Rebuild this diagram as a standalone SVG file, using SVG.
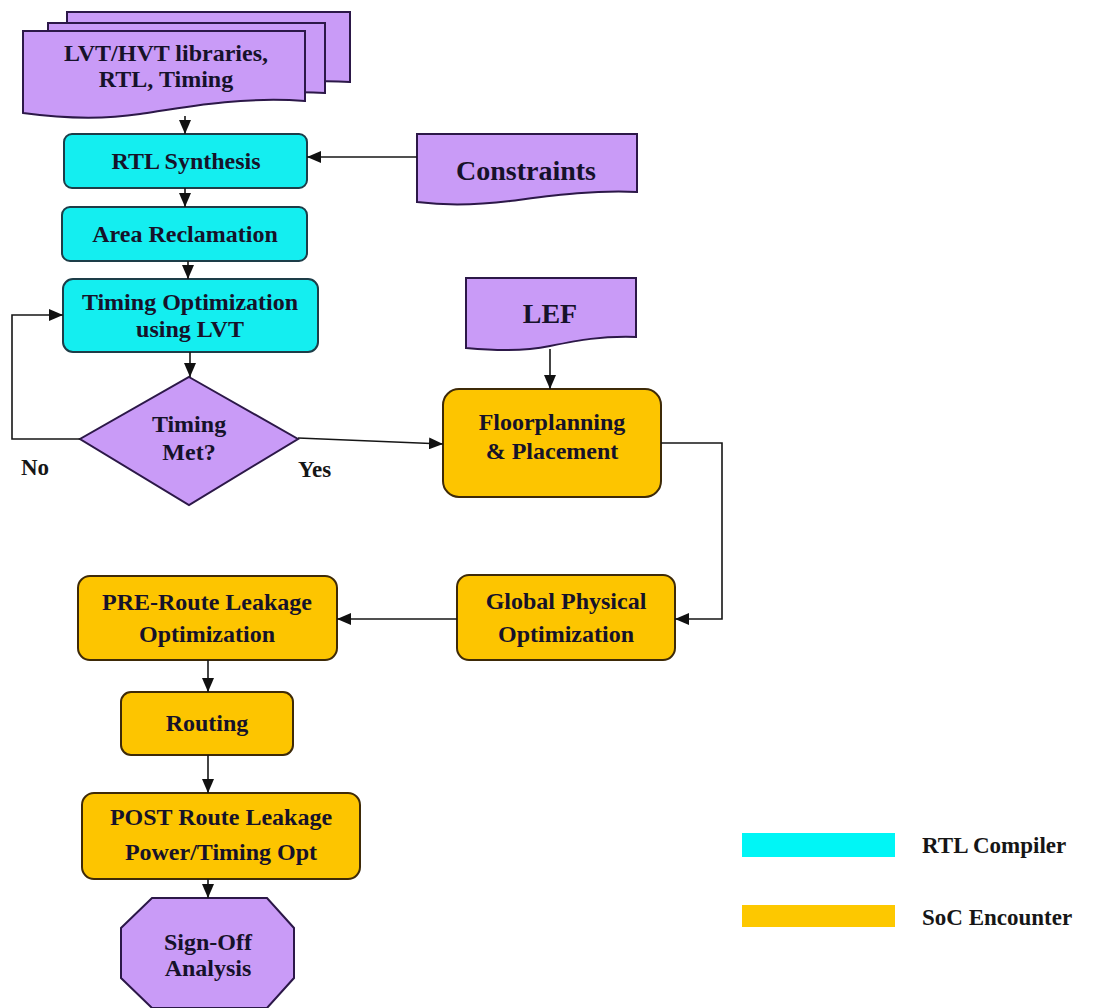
<svg xmlns="http://www.w3.org/2000/svg" width="1101" height="1008" viewBox="0 0 1101 1008">
  <style>
    .lbl { font-family: "Liberation Serif", "Times New Roman", serif; font-weight: bold; fill: #16122a; text-anchor: middle; }
    .t24 { font-size: 24px; }
    .t28 { font-size: 28px; }
    .side { font-family: "Liberation Serif", "Times New Roman", serif; font-weight: bold; font-size: 23px; fill: #161616; }
    .cyan { fill: #14EEF0; stroke: #1d3d48; stroke-width: 2; }
    .gold { fill: #FDC500; stroke: #3e2a08; stroke-width: 2; }
    .purple { fill: #C99BF7; stroke: #2c1848; stroke-width: 2; }
    .conn { fill: none; stroke: #161616; stroke-width: 1.6; }
  </style>
  <defs>
    <marker id="arrow" markerUnits="userSpaceOnUse" markerWidth="14" markerHeight="12" viewBox="0 0 14 12" refX="14" refY="6" orient="auto">
      <path d="M0,0 L14,6 L0,12 Z" fill="#111111"/>
    </marker>
  </defs>

  <rect width="1101" height="1008" fill="#ffffff"/>

  <!-- stacked input documents -->
  <g id="inputs">
    <path class="purple" d="M67,12 H350 V82 C300,79 260,86 220,92 C170,99 110,96 67,92 Z"/>
    <path class="purple" d="M48,23 H325 V93 C275,90 235,97 195,103 C145,110 90,107 48,103 Z"/>
    <path class="purple" d="M23,31 H305 V101 C240,96 180,108 140,114 C100,120 60,118 23,113 Z"/>
    <text class="lbl t24" x="166" y="61">LVT/HVT libraries,</text>
    <text class="lbl t24" x="166" y="87">RTL, Timing</text>
  </g>

  <g id="constraints">
    <path class="purple" d="M417,134 H637 V192 C590,190 550,196 510,201 C470,206 440,205 417,202 Z"/>
    <text class="lbl t28" x="526" y="180">Constraints</text>
  </g>

  <g id="lef">
    <path class="purple" d="M466,278 H636 V337 C600,336 580,340 550,346 C520,352 490,350 466,348 Z"/>
    <text class="lbl t28" x="550" y="323">LEF</text>
  </g>

  <g id="rtl-synthesis">
    <rect class="cyan" x="64" y="134" width="243" height="54" rx="8"/>
    <text class="lbl t24" x="186" y="169">RTL Synthesis</text>
  </g>

  <g id="area-reclamation">
    <rect class="cyan" x="62" y="207" width="245" height="54" rx="8"/>
    <text class="lbl t24" x="185" y="242">Area Reclamation</text>
  </g>

  <g id="timing-optimization">
    <rect class="cyan" x="63" y="279" width="255" height="73" rx="10"/>
    <text class="lbl t24" x="190" y="310">Timing Optimization</text>
    <text class="lbl t24" x="190" y="337">using LVT</text>
  </g>

  <g id="timing-met">
    <polygon class="purple" points="189,377 298,439 189,505 80,439"/>
    <text class="lbl t24" x="189" y="432">Timing</text>
    <text class="lbl t24" x="189" y="460">Met?</text>
  </g>

  <g id="floorplanning">
    <rect class="gold" x="443" y="389" width="218" height="108" rx="16"/>
    <text class="lbl t24" x="552" y="430">Floorplanning</text>
    <text class="lbl t24" x="552" y="459">&amp; Placement</text>
  </g>

  <g id="global-physical">
    <rect class="gold" x="457" y="575" width="218" height="85" rx="12"/>
    <text class="lbl t24" x="566" y="609">Global Physical</text>
    <text class="lbl t24" x="566" y="642">Optimization</text>
  </g>

  <g id="pre-route">
    <rect class="gold" x="78" y="576" width="259" height="84" rx="12"/>
    <text class="lbl t24" x="207" y="610">PRE-Route Leakage</text>
    <text class="lbl t24" x="207" y="642">Optimization</text>
  </g>

  <g id="routing">
    <rect class="gold" x="121" y="692" width="172" height="63" rx="10"/>
    <text class="lbl t24" x="207" y="731">Routing</text>
  </g>

  <g id="post-route">
    <rect class="gold" x="82" y="793" width="278" height="86" rx="12"/>
    <text class="lbl t24" x="221" y="825">POST Route Leakage</text>
    <text class="lbl t24" x="221" y="860">Power/Timing Opt</text>
  </g>

  <g id="sign-off">
    <polygon class="purple" points="152,898 267,898 294,928 294,978 267,1008 152,1008 121,978 121,928"/>
    <text class="lbl t24" x="208" y="950">Sign-Off</text>
    <text class="lbl t24" x="208" y="976">Analysis</text>
  </g>

  <!-- connectors -->
  <g id="connectors">
    <line class="conn" x1="185" y1="116" x2="185" y2="134" marker-end="url(#arrow)"/>
    <line class="conn" x1="417" y1="157" x2="307" y2="157" marker-end="url(#arrow)"/>
    <line class="conn" x1="185" y1="188" x2="185" y2="207" marker-end="url(#arrow)"/>
    <line class="conn" x1="188" y1="261" x2="188" y2="279" marker-end="url(#arrow)"/>
    <line class="conn" x1="190" y1="352" x2="190" y2="377" marker-end="url(#arrow)"/>
    <polyline class="conn" points="80,439 12,439 12,315 63,315" marker-end="url(#arrow)"/>
    <line class="conn" x1="298" y1="438" x2="443" y2="444" marker-end="url(#arrow)"/>
    <line class="conn" x1="550" y1="349" x2="550" y2="389" marker-end="url(#arrow)"/>
    <polyline class="conn" points="661,443 722,443 722,619 675,619" marker-end="url(#arrow)"/>
    <line class="conn" x1="457" y1="619" x2="337" y2="619" marker-end="url(#arrow)"/>
    <line class="conn" x1="208" y1="660" x2="208" y2="692" marker-end="url(#arrow)"/>
    <line class="conn" x1="208" y1="755" x2="208" y2="793" marker-end="url(#arrow)"/>
    <line class="conn" x1="208" y1="879" x2="208" y2="898" marker-end="url(#arrow)"/>
    <text class="side" x="21" y="475">No</text>
    <text class="side" x="298" y="477">Yes</text>
  </g>

  <!-- tool legend -->
  <g id="legend">
    <rect x="742" y="833" width="153" height="24" fill="#00F6F6"/>
    <text class="side" x="922" y="853" font-size="23">RTL Compiler</text>
    <rect x="742" y="905" width="153" height="22" fill="#FDC800"/>
    <text class="side" x="922" y="925" font-size="23">SoC Encounter</text>
  </g>
</svg>
